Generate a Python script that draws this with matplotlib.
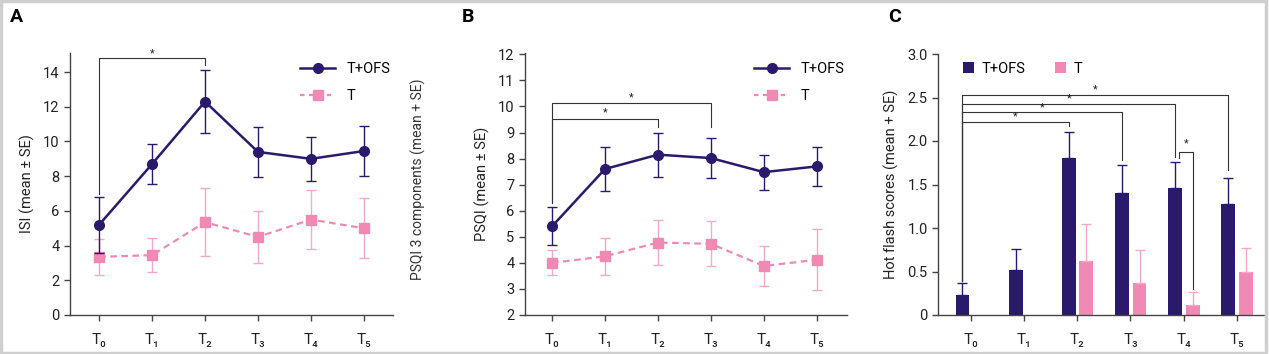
#!/usr/bin/env python3
"""ISI, PSQI and hot flash scores over time: T+OFS vs T."""

import matplotlib.pyplot as plt
import numpy as np
from matplotlib.lines import Line2D
from matplotlib.patches import Rectangle

plt.rcParams["font.family"] = ["Roboto", "DejaVu Sans"]

TIMEPOINTS = ["T₀", "T₁", "T₂", "T₃", "T₄", "T₅"]
SERIES = ["T+OFS", "T"]

# Panel A: ISI
isi_ofs = [5.2, 8.7, 12.3, 9.4, 9.0, 9.45]
isi_ofs_se = [1.6, 1.15, 1.8, 1.45, 1.27, 1.42]
isi_t = [3.35, 3.45, 5.35, 4.5, 5.5, 5.0]
isi_t_se = [1.05, 1.0, 1.97, 1.52, 1.72, 1.72]

# Panel B: PSQI
psqi_ofs = [5.4, 7.6, 8.15, 8.02, 7.48, 7.7]
psqi_ofs_se = [0.73, 0.85, 0.85, 0.77, 0.67, 0.75]
psqi_t = [4.0, 4.25, 4.78, 4.73, 3.88, 4.12]
psqi_t_se = [0.48, 0.7, 0.86, 0.86, 0.75, 1.16]

# Panel C: hot flash scores
hf_ofs = [0.23, 0.52, 1.81, 1.40, 1.46, 1.28]
hf_ofs_se = [0.14, 0.24, 0.29, 0.32, 0.30, 0.30]
hf_t = [0.0, 0.0, 0.62, 0.37, 0.12, 0.49]
hf_t_se = [0.0, 0.0, 0.43, 0.38, 0.14, 0.28]

NAVY = "#2b1a6c"
PINK = "#f08ab4"
PINK_ERR = "#f5a9c8"
AXC = "#444444"
BRC = "#333333"

W, H = 1269, 354
fig = plt.figure(figsize=(W / 100, H / 100), dpi=100)
fig.patches.append(Rectangle((0.001, 0.003), 0.997, 0.993, transform=fig.transFigure,
                             fill=False, edgecolor="#cfcfcf", linewidth=2.5))


def px_axes(left, right, top, bottom=315):
    return fig.add_axes([left / W, 1 - bottom / H, (right - left) / W, (bottom - top) / H])


def style(ax):
    for s in ("top", "right"):
        ax.spines[s].set_visible(False)
    for s in ("left", "bottom"):
        ax.spines[s].set_color(AXC)
        ax.spines[s].set_linewidth(1.0)
    ax.tick_params(colors=AXC, labelcolor="#222222", labelsize=10.5, length=4, width=1.0)
    ax.set_xticks(range(len(TIMEPOINTS)))
    ax.set_xticklabels(TIMEPOINTS, fontsize=11)
    ax.tick_params(axis="x", pad=9)


def bracket(ax, x0, x1, y, y0, y1, star_dy):
    ax.plot([x0, x0, x1, x1], [y0, y, y, y1], color=BRC, lw=0.8, clip_on=False, zorder=1)
    ax.text((x0 + x1) / 2, y + star_dy, "*", ha="center", va="bottom", fontsize=8, color="#222222")


def line_panel(ax, ofs, ofs_se, t, t_se):
    x = np.arange(len(TIMEPOINTS))
    ax.errorbar(x, t, yerr=t_se, color=PINK, ecolor=PINK_ERR, elinewidth=1.0, capsize=3.5,
                lw=1.6, ls=(0, (3, 2)), marker="s", ms=7.5, mec=PINK, mfc=PINK, zorder=2)
    ax.errorbar(x, ofs, yerr=ofs_se, color=NAVY, ecolor=NAVY, elinewidth=1.0, capsize=3.5,
                lw=1.8, marker="o", ms=7, zorder=3)
    handles = [
        Line2D([], [], color=NAVY, lw=1.8, marker="o", ms=7),
        Line2D([], [], color=PINK, lw=1.6, ls=(0, (2, 2)), marker="s", ms=7.5),
    ]
    ax.legend(handles, SERIES, loc="upper right", frameon=False, fontsize=10.5,
              handlelength=2.4, borderaxespad=0.2, labelspacing=0.9, bbox_to_anchor=(1.02, 1.0))


# ---- A
axA = px_axes(70, 393, 53)
style(axA)
line_panel(axA, isi_ofs, isi_ofs_se, isi_t, isi_t_se)
axA.set_xlim(-0.55, 5.55)
axA.set_ylim(0, 15.1)
axA.set_yticks(range(0, 15, 2))
axA.set_ylabel("ISI (mean ± SE)", fontsize=10.5, color="#222222", labelpad=6)
bracket(axA, 0, 2, 14.8, 6.95, 14.4, 0.0)

# ---- B
axB = px_axes(525, 847, 53)
style(axB)
line_panel(axB, psqi_ofs, psqi_ofs_se, psqi_t, psqi_t_se)
axB.set_xlim(-0.51, 5.57)
axB.set_ylim(2, 12.05)
axB.set_yticks(range(2, 13))
axB.set_ylabel("PSQI (mean ± SE)", fontsize=10.5, color="#222222", labelpad=6)
bracket(axB, 0, 3, 10.12, 6.3, 9.2, 0.05)
bracket(axB, 0, 2, 9.52, 6.3, 9.2, 0.05)

# ---- C
axC = px_axes(938, 1265, 54)
style(axC)
x = np.arange(len(TIMEPOINTS))
bw = 0.26
xo = x - 0.16
xp = x + 0.17
axC.bar(xo, hf_ofs, bw, color=NAVY, label=SERIES[0], zorder=2)
axC.errorbar(xo, hf_ofs, yerr=[np.zeros(6), hf_ofs_se], fmt="none", ecolor=NAVY,
             elinewidth=1.0, capsize=3.5, zorder=2)
axC.bar(xp, hf_t, bw, color=PINK, label=SERIES[1], zorder=2)
mask = np.array(hf_t) > 0
axC.errorbar(xp[mask], np.array(hf_t)[mask], yerr=[np.zeros(mask.sum()), np.array(hf_t_se)[mask]],
             fmt="none", ecolor=PINK_ERR, elinewidth=1.0, capsize=3.5, zorder=2)
axC.set_xlim(-0.62, 5.53)
axC.set_ylim(0, 3.0)
axC.set_yticks([0, 0.5, 1.0, 1.5, 2.0, 2.5, 3.0])
axC.set_yticklabels(["0", "0.5", "1.0", "1.5", "2.0", "2.5", "3.0"])
axC.set_ylabel("Hot flash scores (mean + SE)", fontsize=10.5, color="#222222", labelpad=6)
axC.legend(loc="upper left", ncol=2, frameon=False, fontsize=10.5, handlelength=0.8,
           handleheight=0.8, columnspacing=2.0, handletextpad=0.5, bbox_to_anchor=(0.035, 1.02))
top0 = hf_ofs[0] + hf_ofs_se[0] + 0.02
bracket(axC, xo[0], xo[2], 2.22, top0, 2.17, 0.0)
bracket(axC, xo[0], xo[3], 2.33, top0, 1.78, 0.0)
bracket(axC, xo[0], xo[4], 2.43, top0, 1.82, 0.0)
bracket(axC, xo[0], xo[5], 2.53, top0, 1.67, 0.0)
bracket(axC, xo[4] + 0.07, xp[4], 1.87, 1.80, 0.30, 0.04)

# stray axis label from the source layout
fig.text(418 / W, 1 - 179 / H, "PSQI 3 components (mean + SE)", rotation=90, ha="center",
         va="center", fontsize=10, color="#333333")

for lab, xpx in (("A", 10), ("B", 462), ("C", 888)):
    fig.text(xpx / W, 1 - 8 / H, lab, fontsize=14, fontweight="bold", ha="left", va="top")

plt.savefig("out.png", dpi=100)
